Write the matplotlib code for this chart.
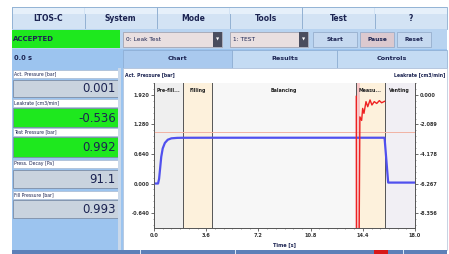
import matplotlib
matplotlib.use("Agg")
import matplotlib.pyplot as plt
from matplotlib.patches import Rectangle
from matplotlib.ticker import AutoMinorLocator, FixedLocator

# screen texts
menu_items = ["LTOS-C", "System", "Mode", "Tools", "Test", "?"]
tab_items = ["Chart", "Results", "Controls"]
status_text = "ACCEPTED"
program_text = "0: Leak Test"
part_text = "1: TEST"
button_items = ["Start", "Pause", "Reset"]
elapsed_text = "0.0 s"

readout_labels = ["Act. Pressure [bar]", "Leakrate [cm3/min]", "Test Pressure [bar]",
                  "Press. Decay [Pa]", "Fill Pressure [bar]"]
readout_values = ["0.001", "-0.536", "0.992", "91.1", "0.993"]
readout_ok = [False, True, True, False, False]

# chart data
phase_names = ["Pre-fill...", "Filling", "Balancing", "Measu...", "Venting"]
phase_edges = [0.0, 2.0, 4.0, 13.95, 15.9, 18.0]

time_p = [0.0, 0.28, 0.35, 0.42, 0.5, 0.6, 0.75, 0.95, 1.2, 1.6, 2.0, 4.0, 13.95, 15.9, 16.15, 18.0]
pressure = [0.0, 0.0, 0.1, 0.32, 0.58, 0.76, 0.88, 0.95, 0.98, 0.99, 0.992, 0.993, 0.993, 0.993, 0.02, 0.02]

time_l = [13.95, 13.96, 14.15, 14.2, 14.32, 14.39, 14.48, 14.62, 14.74, 14.9, 15.03,
          15.19, 15.36, 15.54, 15.7, 15.9]
leakrate = [-0.1, -9.6, -9.6, -1.55, -1.8, -0.95, -1.3, -0.47, -0.83, -0.35, -0.71,
            -0.47, -0.6, -0.4, -0.55, -0.45]
leak_limit = -2.6

x_ticks = [0.0, 3.6, 7.2, 10.8, 14.4, 18.0]
p_ticks = [-0.64, 0.0, 0.64, 1.28, 1.92]
l_ticks = [-8.356, -6.267, -4.178, -2.089, 0.0]

W, H = 449, 254
BLUE = "#9cc4ef"
NAVY = "#1c2452"
GREEN = "#1ee81e"

fig = plt.figure(figsize=(W / 100, H / 100), dpi=100)
fig.patch.set_facecolor("white")

# background axes in pixel coordinates
bg = fig.add_axes([0, 0, 1, 1])
bg.set_xlim(0, W)
bg.set_ylim(H, 0)
bg.axis("off")


def box(x0, y0, x1, y1, fc, ec="none", lw=0.5, z=1):
    bg.add_patch(Rectangle((x0, y0), x1 - x0, y1 - y0, facecolor=fc, edgecolor=ec, linewidth=lw, zorder=z))


def txt(x, y, s, size=4, ha="left", color=NAVY, weight="bold"):
    bg.text(x, y, s, fontsize=size, ha=ha, va="center", color=color, fontweight=weight, zorder=5)


# whole screen
box(12, 7, 447, 254, BLUE)

# menu bar
mw = (447 - 12) / len(menu_items)
for i, name in enumerate(menu_items):
    x0 = 12 + i * mw
    box(x0, 7, x0 + mw, 29, "#d3e3f4", ec="#8eaed0", lw=0.6)
    box(x0 + 0.5, 7.5, x0 + mw - 0.5, 14, "#e6f0fa", z=2)
    txt(x0 + mw / 2, 18.5, name, size=5.5, ha="center")

# status row
box(12, 29, 447, 49, "#b8d3f0")
box(12, 30, 120, 48, GREEN)
txt(13, 39, status_text, size=5)
for x0, x1, s in [(123, 222, program_text), (230, 308, part_text)]:
    box(x0, 32, x1, 47, "#e9dfe0", ec="#9a9aa8", lw=0.5)
    txt(x0 + 3, 39.5, s, size=4.2, weight="normal")
    box(x1 - 9, 32, x1, 47, "#4a4d5e")
    txt(x1 - 4.5, 39.5, "\u25bc", size=3, ha="center", color="white")
for (x0, x1), s in zip([(313, 357), (360, 394), (397, 431)], button_items):
    fc = "#dcc9cf" if s == "Pause" else "#c6d9f0"
    box(x0, 32, x1, 47, fc, ec="#8ea6c6", lw=0.5)
    txt((x0 + x1) / 2, 39.5, s, size=4.2, ha="center")

# tab row
txt(14, 58, elapsed_text, size=4.8)
tabs_x = [123, 232, 337, 447]
for i, s in enumerate(tab_items):
    fc = "#a9c9ee" if i == 0 else "#c4dbf3"
    box(tabs_x[i], 50, tabs_x[i + 1], 68, fc, ec="#8aaad0", lw=0.5)
    txt((tabs_x[i] + tabs_x[i + 1]) / 2, 59, s, size=4.6, ha="center")

# readouts
label_top = [70, 99, 128, 160, 191]
value_box = [(80, 97), (108, 127), (137, 157), (170, 188), (200, 218)]
for i in range(len(readout_labels)):
    box(13, label_top[i], 118, label_top[i] + 8, "white", ec="#a0b0c8", lw=0.4)
    txt(14, label_top[i] + 4, readout_labels[i], size=3.3, weight="normal")
    y0, y1 = value_box[i]
    fc = GREEN if readout_ok[i] else "#c9d3de"
    box(13, y0, 118, y1, fc, ec="#7d8ea6", lw=0.6)
    txt(116, (y0 + y1) / 2 + 0.5, readout_values[i], size=8.5, ha="right", weight="normal")
box(118, 68, 121, 250, "#c9d8ea")

# chart panel
box(123, 68, 447, 250, "white", ec="#b0c0d8", lw=0.5)
txt(125, 75, "Act. Pressure [bar]", size=3.3)
txt(445, 75, "Leakrate [cm3/min]", size=3.3, ha="right")
txt(284.5, 245, "Time [s]", size=3.6, ha="center")

# bottom strip
box(12, 250, 447, 254, "#5d80b8")
for xs in [140, 235, 403]:
    box(xs, 250, xs + 1, 254, "#dce8f6", z=2)
box(374, 250, 388, 254, "#d81818", z=3)

# plot
L, R, T, B = 154, 415, 83, 228
ax = fig.add_axes([L / W, 1 - B / H, (R - L) / W, (B - T) / H])
ax.set_facecolor("white")
band_colors = ["#efefef", "#fdf1dc", "#f7f7f7", "#fdf1dc", "#f1eff4"]
for i in range(len(phase_names)):
    ax.axvspan(phase_edges[i], phase_edges[i + 1], color=band_colors[i], lw=0, zorder=0)
    ax.text((phase_edges[i] + phase_edges[i + 1]) / 2, 0.95, phase_names[i],
            transform=ax.get_xaxis_transform(), ha="center", va="center",
            fontsize=3.4, fontweight="bold", color="#222222")
for e in phase_edges[1:-1]:
    ax.axvline(e, color="#555555", lw=0.7, zorder=1)
ax.axvspan(13.95, 14.2, color="#f8c6c6", lw=0, zorder=0.5)

ax.plot(time_p, pressure, color="#5050ee", lw=1.6, zorder=3)
ax.set_xlim(0, 18)
ax.set_ylim(-0.965, 2.18)
ax.xaxis.set_major_locator(FixedLocator(x_ticks))
ax.set_xticklabels([f"{v:.1f}" for v in x_ticks])
ax.yaxis.set_major_locator(FixedLocator(p_ticks))
ax.set_yticklabels([f"{v:.3f}" for v in p_ticks])
ax.xaxis.set_minor_locator(AutoMinorLocator(6))
ax.yaxis.set_minor_locator(AutoMinorLocator(5))

ax2 = ax.twinx()
ax2.set_ylim(-9.417, 0.849)
ax2.axhline(leak_limit, color="#f2b3a3", lw=0.7, zorder=2)
ax2.plot(time_l, leakrate, color="#ee2222", lw=1.0, zorder=4)
ax2.yaxis.set_major_locator(FixedLocator(l_ticks))
ax2.set_yticklabels([f"{v:.3f}" for v in l_ticks])
ax2.yaxis.set_minor_locator(AutoMinorLocator(5))

for a in (ax, ax2):
    a.spines["top"].set_visible(False)
    for s in ("left", "right", "bottom"):
        a.spines[s].set_color("#555555")
        a.spines[s].set_linewidth(0.6)
    a.tick_params(which="major", labelsize=3.6, length=2, width=0.5, pad=1.5, colors="#333333")
    a.tick_params(which="minor", length=1, width=0.4, colors="#555555")
    for lab in a.get_xticklabels() + a.get_yticklabels():
        lab.set_fontweight("bold")

fig.savefig("out.png", dpi=100)
